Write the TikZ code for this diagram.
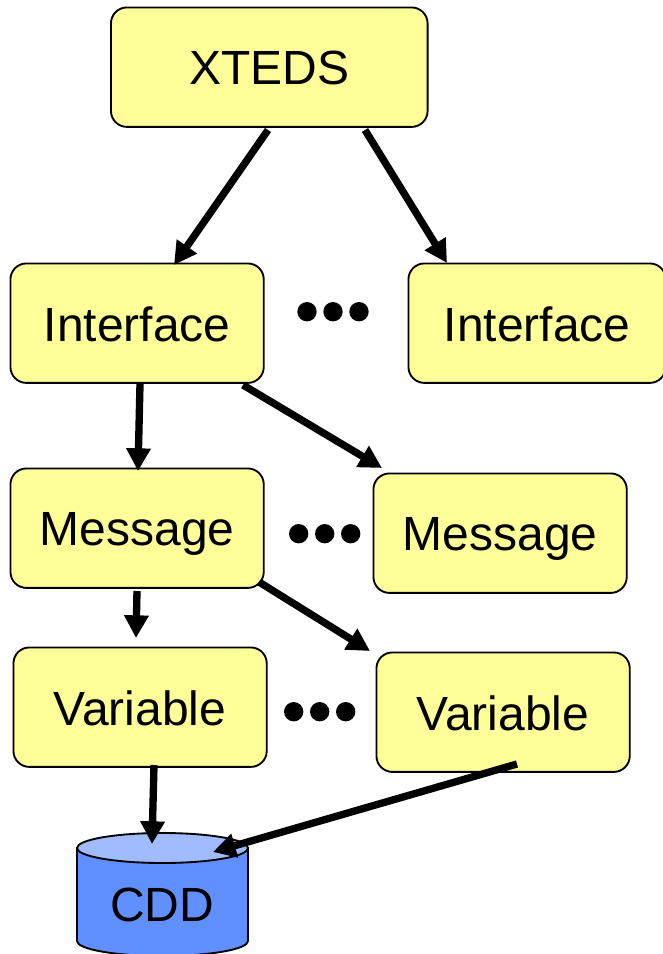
\documentclass[tikz,border=0pt]{standalone}
\usepackage{fontspec}
\setmainfont{Liberation Sans}
\usetikzlibrary{arrows.meta}
\definecolor{boxy}{HTML}{FFFF99}
\definecolor{cylb}{HTML}{6090FF}
\definecolor{cylt}{HTML}{A0BCFF}
\newcommand\lbl[1]{\raisebox{-0.75pt}{#1}}
\tikzset{
 x=0.75pt,y=-0.75pt,
 boxn/.style={draw=black,line width=1.4pt,fill=boxy,rounded corners=12pt,minimum width=190pt,minimum height=89.6pt,inner sep=0pt,font=\fontsize{36}{36}\selectfont,text=black,anchor=north west,text depth=0pt},
 conn/.style={draw=black,line width=5.5pt,-{Triangle[length=17pt,width=17.5pt]}},
 dotn/.style={circle,fill=black,minimum size=14.5pt,inner sep=0pt}
}
\begin{document}
\begin{tikzpicture}
\useasboundingbox (0,0) rectangle (662,954);
\node[boxn,minimum width=237.5pt] (xteds) at (110,6.5) {\lbl{XTEDS}};
\node[boxn] (i1) at (9.5,262.5) {\lbl{Interface}};
\node[boxn,minimum width=193pt] (i2) at (407.5,262.5) {\lbl{Interface}};
\node[boxn] (m1) at (9.5,467.5) {\lbl{Message}};
\node[boxn] (m2) at (372.5,472.5) {\lbl{Message}};
\node[boxn] (v1) at (12.5,646.5) {\lbl{Variable}};
\node[boxn] (v2) at (375.5,651.5) {\lbl{Variable}};
% cylinder
\path[draw=black,line width=1.4pt,fill=cylb] (77,848) -- (77,941) arc[start angle=180,end angle=0,x radius=85.5,y radius=15] -- (248,848) -- cycle;
\path[draw=black,line width=1.4pt,fill=cylt] (162.5,848) ellipse[x radius=85.5,y radius=15];
\node[font=\fontsize{36}{36}\selectfont,text=black] (cdd) at (162,905) {CDD};
\foreach \x/\y/\n in {307/311.7/a,333/311.7/b,359/311.7/c,298.7/533.7/d,324.7/533.7/e,350.7/533.7/f,293.7/711.7/g,319.7/711.7/h,345.7/711.7/i}
  \node[dotn] (\n) at (\x,\y) {};
\coordinate (s1) at (268,130); \coordinate (e1) at (174,265);
\coordinate (s2) at (365,130); \coordinate (e2) at (447,263);
\coordinate (s3) at (140,384); \coordinate (e3) at (138,471);
\coordinate (s4) at (243,385); \coordinate (e4) at (382,468);
\coordinate (s5) at (137,591); \coordinate (e5) at (136,638);
\coordinate (s6) at (259,582); \coordinate (e6) at (370,651);
\coordinate (s7) at (154,765); \coordinate (e7) at (152,844);
\coordinate (s8) at (517,764); \coordinate (e8) at (213,852);
\foreach \i in {1,...,8} \draw[conn] (s\i) -- (e\i);
\end{tikzpicture}
\end{document}
